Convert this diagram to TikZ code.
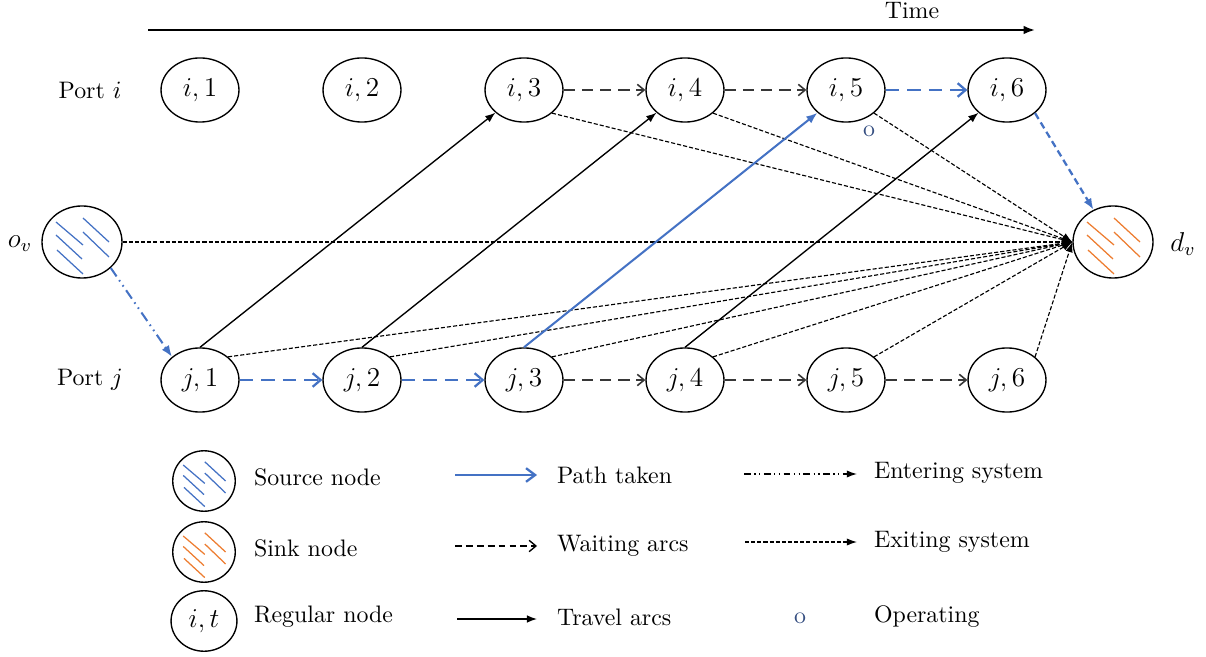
\documentclass[tikz,border=0pt]{standalone}
\usetikzlibrary{shapes.geometric,arrows.meta}
\definecolor{pathblue}{RGB}{68,114,196}
\definecolor{sinkorange}{RGB}{237,125,49}
\definecolor{opblue}{RGB}{55,80,130}
\definecolor{waitgray}{RGB}{55,55,55}

\tikzset{
  pics/hatch/.style={code={
    \draw[#1, line width=0.55pt]
      (-26,-20) -- (1,3)   (-26,-7) -- (0,17)   (-25,8) -- (1,32)
      (1,-24) -- (27,0)    (1,-10) -- (27,15);
  }},
}

\begin{document}
\begin{tikzpicture}[x=0.44pt,y=-0.44pt,
  every node/.style={font=\fontsize{10.5}{12}\selectfont},
  tnode/.style={draw, ellipse, line width=0.6pt, minimum width=34.3pt,
    minimum height=28.2pt, inner sep=0pt, font=\large},
  endnode/.style={draw, ellipse, line width=0.6pt, minimum width=35.2pt,
    minimum height=31.7pt, inner sep=0pt},
  legnode/.style={draw, ellipse, line width=0.6pt, minimum width=27.5pt,
    minimum height=26.6pt, inner sep=0pt, font=\large},
  lbl/.style={anchor=west},
  wait/.style={draw=waitgray, line width=0.7pt, dash pattern=on 5pt off 3pt,
    -{Straight Barb[length=3pt,width=5pt]}},
  pathwait/.style={draw=pathblue, line width=1pt, dash pattern=on 6pt off 3.5pt,
    -{Straight Barb[length=3.5pt,width=6pt]}},
  travel/.style={draw=black, line width=0.6pt, -{Latex[length=4.5pt,width=3.4pt]}},
  pathtravel/.style={draw=pathblue, line width=0.9pt, -{Latex[length=5pt,width=3.8pt]}},
  exitarc/.style={draw=black, line width=0.5pt, dash pattern=on 1.8pt off 0.9pt,
    -{Latex[length=4.5pt,width=3.2pt]}},
  pathexit/.style={draw=pathblue, line width=1pt, dash pattern=on 3pt off 1.8pt,
    -{Latex[length=5pt,width=3.8pt]}},
  enter/.style={draw=pathblue, line width=0.9pt,
    dash pattern=on 4.5pt off 2pt on 0.7pt off 2pt on 0.7pt off 2pt,
    -{Latex[length=5pt,width=3.8pt]}},
  legenter/.style={draw=black, line width=0.6pt,
    dash pattern=on 3pt off 1.5pt on 0.6pt off 1.5pt on 0.6pt off 1.5pt,
    -{Latex[length=4.5pt,width=3.2pt]}},
  legpath/.style={draw=pathblue, line width=1pt,
    -{Straight Barb[length=4pt,width=6pt]}},
  legwait/.style={draw=black, line width=0.6pt, dash pattern=on 3pt off 1.8pt,
    -{Straight Barb[length=3pt,width=5pt]}},
  timearrow/.style={draw=black, line width=0.9pt, -{Latex[length=5pt,width=3.8pt]}},
]
\useasboundingbox (0,0) rectangle (1206,657);

% time axis
\coordinate (t0) at (148,30);
\coordinate (t1) at (1035,30);
\draw[timearrow] (t0) -- (t1);
\node (time) at (912,11) {Time};

% time-expanded nodes of both ports
\foreach \t/\x in {1/200,2/362,3/524,4/685,5/846,6/1007} {
  \node[tnode] (i\t) at (\x,90) {$i,\t$};
  \node[tnode] (j\t) at (\x,380) {$j,\t$};
}
\node (porti) at (90,90) {Port $i$};
\node (portj) at (90,380) {Port $j$};

% source and sink
\node[endnode] (ov) at (82,242) {};
\node[endnode] (dv) at (1113,242) {};
\pic at (ov.center) {hatch=pathblue};
\pic at (dv.center) {hatch=sinkorange};
\node (lov) at (20,244) {\large$o_v$};
\node (ldv) at (1183,244) {\large$d_v$};

% operating mark
\node[text=opblue] (op) at (869,131) {o};

% exiting arcs
\draw[exitarc] (ov.east) -- (dv.west);
\foreach \n in {i3,i4,i5}
  \draw[exitarc] (\n.south east) -- (dv.west);
\foreach \n in {j1,j2,j3,j4,j5,j6}
  \draw[exitarc] (\n.north east) -- (dv.west);
\draw[pathexit] (i6.south east) -- (dv);

% entering arc
\draw[enter] (ov.south east) -- (j1.north west);

% waiting arcs
\draw[wait] (i3) -- (i4);
\draw[wait] (i4) -- (i5);
\draw[pathwait] (i5) -- (i6);
\draw[pathwait] (j1) -- (j2);
\draw[pathwait] (j2) -- (j3);
\draw[wait] (j3) -- (j4);
\draw[wait] (j4) -- (j5);
\draw[wait] (j5) -- (j6);

% travel arcs
\draw[travel] (j1.north) -- (i3);
\draw[travel] (j2.north) -- (i4);
\draw[pathtravel] (j3.north) -- (i5);
\draw[travel] (j4.north) -- (i6);

% legend: node kinds
\node[legnode] (lsrc) at (204,481) {};
\pic[scale=0.8] at (lsrc.center) {hatch=pathblue};
\node[lbl] (tsrc) at (246,477) {Source node};
\node[legnode] (lsnk) at (204,552) {};
\pic[scale=0.8] at (lsnk.center) {hatch=sinkorange};
\node[lbl] (tsnk) at (246,548) {Sink node};
\node[legnode, minimum width=29pt] (lreg) at (204,621) {$i,t$};
\node[lbl] (treg) at (246,617) {Regular node};

% legend: arc kinds
\coordinate (pa0) at (455,475); \coordinate (pa1) at (537,475);
\draw[legpath] (pa0) -- (pa1);
\node[lbl] (tpa) at (549,475) {Path taken};
\coordinate (wa0) at (455,546); \coordinate (wa1) at (537,546);
\draw[legwait] (wa0) -- (wa1);
\node[lbl] (twa) at (549,546) {Waiting arcs};
\coordinate (tr0) at (457,619); \coordinate (tr1) at (537,619);
\draw[travel] (tr0) -- (tr1);
\node[lbl] (ttr) at (549,617) {Travel arcs};
\coordinate (en0) at (744,474); \coordinate (en1) at (857,474);
\draw[legenter] (en0) -- (en1);
\node[lbl] (ten) at (866,473) {Entering system};
\coordinate (ex0) at (745,542); \coordinate (ex1) at (857,542);
\draw[exitarc] (ex0) -- (ex1);
\node[lbl] (tex) at (866,542) {Exiting system};
\node[text=opblue] (lop) at (800,618) {o};
\node[lbl] (top) at (866,617) {Operating};
\end{tikzpicture}
\end{document}
